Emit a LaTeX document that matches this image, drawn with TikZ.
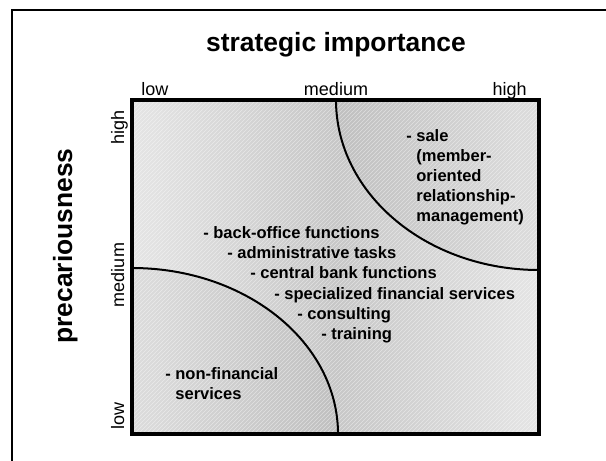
\documentclass[tikz,border=0pt]{standalone}
\usepackage{fontspec}
\setmainfont{Liberation Sans}
\usetikzlibrary{patterns}

\begin{document}
\begin{tikzpicture}[x=0.75pt, y=-0.75pt,
    % --- Styles ---
    itemText/.style={
      anchor=base west,
      align=left,
      font=\fontsize{12.4}{15}\selectfont\bfseries,
      inner sep=0pt
    },
    axisTitle/.style={
      font=\fontsize{19.8}{24}\selectfont\bfseries,
      inner sep=0pt
    },
    levelLabel/.style={
      font=\fontsize{13.5}{16}\selectfont,
      inner sep=0pt
    },
    boxBorder/.style={
      line width=2.5pt
    },
    boundaryArc/.style={
      line width=1.5pt
    },
    cornerTint/.style={
      fill=black,
      fill opacity=0.035
    }
]
\useasboundingbox (0,0) rectangle (606,460);

%=====================
% Outer frame (runs off at right and bottom)
%=====================
\coordinate (frameBL) at (12,470);
\coordinate (frameTL) at (12,10);
\coordinate (frameTR) at (620,10);
\draw[line width=1.5pt] (frameBL) -- (frameTL) -- (frameTR);

%=====================
% Matrix field
%=====================
\coordinate (boxTL) at (132,100);
\coordinate (boxBR) at (539,434);
\coordinate (boxTR) at (539,100);
\coordinate (boxBL) at (132,434);
\coordinate (boxCenter) at (335.5,267);
\begin{scope}
  \clip (boxTL) rectangle (boxBR);
  % white in the top-left and bottom-right corners, grey along the other diagonal
  \shade[left color=white, right color=white, middle color=black!22,
    rotate around={-50.6:(boxCenter)}] (77.5,-13) rectangle (593.5,547);
\end{scope}

% region boundaries
\coordinate (upperArcStart) at (336,100);
\coordinate (lowerArcStart) at (132,268);
\fill[cornerTint] (upperArcStart) arc[start angle=180, end angle=90, x radius=203, y radius=170]
  -- (boxTR) -- cycle;
\fill[cornerTint] (lowerArcStart) arc[start angle=270, end angle=360, x radius=206, y radius=166]
  -- (boxBL) -- cycle;
\fill[pattern=north east lines, pattern color=white, opacity=0.45]
  (boxTL) rectangle (boxBR);
\draw[boundaryArc] (upperArcStart) arc[start angle=180, end angle=90, x radius=203, y radius=170];
\draw[boundaryArc] (lowerArcStart) arc[start angle=270, end angle=360, x radius=206, y radius=166];
\draw[boxBorder] (boxTL) rectangle (boxBR);

%=====================
% Axis titles and levels
%=====================
\node[axisTitle, anchor=base] (xTitle) at (336,51) {strategic importance};
\node[axisTitle, anchor=base, rotate=90] (yTitle) at (72,246) {precariousness};

\node[levelLabel, anchor=base west] (xLow) at (141,95) {low};
\node[levelLabel, anchor=base] (xMed) at (336,95) {medium};
\node[levelLabel, anchor=base east] (xHigh) at (527,95) {high};

\node[levelLabel, anchor=base east, rotate=90] (yHigh) at (124,110) {high};
\node[levelLabel, anchor=base, rotate=90] (yMed) at (124,275) {medium};
\node[levelLabel, anchor=base west, rotate=90] (yLow) at (124,430) {low};

%=====================
% Tasks (multi-line nodes sit on their last line)
%=====================
\node[itemText] (sale) at (406,221) {- sale\\\phantom{- }(member-\\\phantom{- }oriented\\\phantom{- }relationship-\\\phantom{- }management)};
\node[itemText] (backOffice) at (203,238) {- back-office functions};
\node[itemText] (admin) at (227,258) {- administrative tasks};
\node[itemText] (centralBank) at (250,278) {- central bank functions};
\node[itemText] (specialized) at (274,299) {- specialized financial services};
\node[itemText] (consulting) at (297,319) {- consulting};
\node[itemText] (training) at (321,339) {- training};
\node[itemText] (nonFinancial) at (165,399) {- non-financial\\\phantom{- }services};

\end{tikzpicture}
\end{document}
